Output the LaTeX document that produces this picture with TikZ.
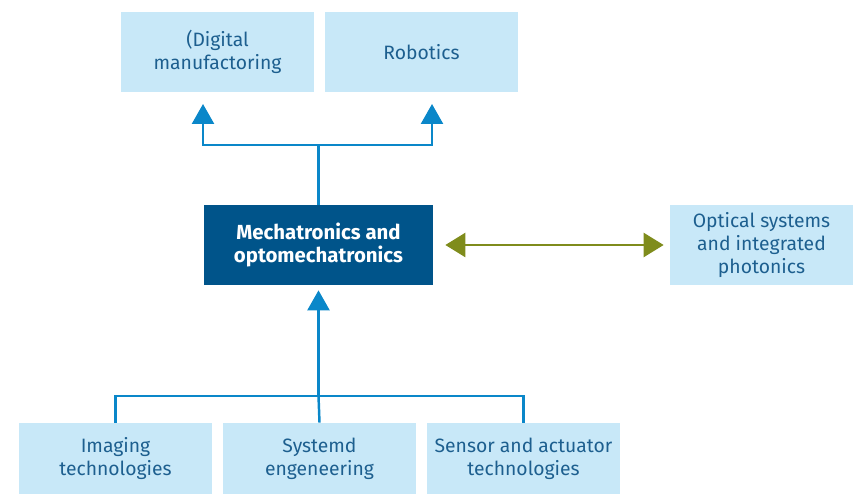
\documentclass[tikz,border=0pt]{standalone}
\usepackage{fontspec}
\setmainfont{Fira Sans}
\usetikzlibrary{positioning,arrows.meta}
\definecolor{boxfill}{HTML}{C8E8F8}
\definecolor{boxtext}{HTML}{1D5F8F}
\definecolor{linkblue}{HTML}{0A87C9}
\definecolor{coreblue}{HTML}{00548A}
\definecolor{olive}{HTML}{7F8C1C}
\tikzset{
	field/.style={fill=boxfill, text=boxtext, align=center, minimum width=3.86cm, minimum height=1.6cm, inner sep=0pt, font=\fontsize{11}{13.2}\selectfont},
	core/.style={fill=coreblue, text=white, align=center, minimum width=4.58cm, minimum height=1.6cm, inner sep=0pt, font=\bfseries\fontsize{11.6}{13.4}\selectfont},
	link/.style={draw=linkblue, line width=1.4pt},
	up/.style={link, -{Triangle[width=0.44cm,length=0.4cm]}},
}
\begin{document}
\begin{tikzpicture}[node distance=4.08cm]
	\useasboundingbox (0, 0) rectangle (17.06, 9.9);

	\node[field]		(t1)	at (4.35, 8.86)	{(Digital\\manufactoring};
	\node[field]		(t2)	[right of = t1]	{Robotics};

	\node[core]		(m)	at (6.37, 5.0)	{Mechatronics and\\optomechatronics};
	\node[field, minimum width=3.66cm]	(o)	at (15.23, 5.0)	{Optical systems\\and integrated\\photonics};

	\node[field, minimum height=1.42cm]	(b1)	at (2.31, 0.73)	{Imaging\\technologies};
	\node[field, minimum height=1.42cm]	(b2)	[right of = b1]	{Systemd\\engeneering};
	\node[field, minimum height=1.42cm]	(b3)	[right of = b2]	{Sensor and actuator\\technologies};

	% split above the core box
	\coordinate	(fork)	at (6.37, 7.0);
	\coordinate	(in1)	at (4.06, 7.82);
	\coordinate	(in2)	at (8.64, 7.82);
	\draw[link] (m.north) -- (fork);
	\draw[up] (fork) -| (in1);
	\draw[up] (fork) -| (in2);

	% join below the core box
	\coordinate	(join)	at (6.37, 1.98);
	\draw[link] (b1.north) |- (join);
	\draw[link] (b3.north) |- (join);
	\draw[link] (b2.north) -- (join);
	\draw[up, shorten >=0.1cm] (join) -- (m.south);

	\draw[draw=olive, line width=1.4pt, {Triangle[width=0.48cm,length=0.4cm]}-{Triangle[width=0.48cm,length=0.4cm]}, shorten <=0.24cm, shorten >=0.12cm] (m.east) -- (o.west);
\end{tikzpicture}
\end{document}
